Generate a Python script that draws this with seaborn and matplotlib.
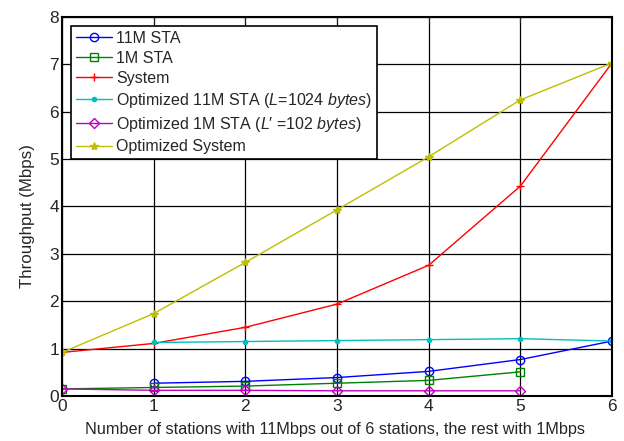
import matplotlib
matplotlib.use("Agg")
import matplotlib.pyplot as plt
import seaborn as sns

sns.set_style("white")
plt.rcParams["font.family"] = ["Liberation Sans", "DejaVu Sans"]
plt.rcParams["mathtext.fontset"] = "custom"
plt.rcParams["mathtext.rm"] = "Liberation Sans"
plt.rcParams["mathtext.it"] = "Liberation Sans:italic"

# Throughput (Mbps) vs. number of 11Mbps stations
x_11m = [1, 2, 3, 4, 5, 6]
sta_11m = [0.27, 0.31, 0.39, 0.52, 0.77, 1.16]

x_1m = [0, 1, 2, 3, 4, 5]
sta_1m = [0.15, 0.18, 0.21, 0.27, 0.33, 0.51]

x_sys = [0, 1, 2, 3, 4, 5, 6]
system = [0.92, 1.11, 1.45, 1.94, 2.76, 4.43, 7.03]

x_opt11 = [1, 2, 3, 4, 5, 6]
opt_11m = [1.13, 1.15, 1.17, 1.19, 1.21, 1.16]

x_opt1 = [0, 1, 2, 3, 4, 5]
opt_1m = [0.15, 0.12, 0.12, 0.11, 0.11, 0.11]

x_optsys = [0, 1, 2, 3, 4, 5, 6]
opt_sys = [0.92, 1.74, 2.82, 3.93, 5.05, 6.25, 7.03]

labels = [
    "11M STA",
    "1M STA",
    "System",
    r"Optimized 11M STA ($\mathit{L}\text{=}\mathit{1024\ bytes}$)",
    r"Optimized 1M STA ($\mathit{L}\prime\ \text{=}\mathit{102\ bytes}$)",
    "Optimized System",
]

fig = plt.figure(figsize=(6.24, 4.41), dpi=100)
ax = fig.add_axes([0.0994, 0.102, 0.8814, 0.8595])

series = [
    (x_11m, sta_11m, "#0000ff", "o", 6, "none"),
    (x_1m, sta_1m, "#008000", "s", 6, "none"),
    (x_sys, system, "#ff0000", "+", 6, None),
    (x_opt11, opt_11m, "#00bfbf", ".", 6, None),
    (x_opt1, opt_1m, "#bf00bf", "D", 5, "none"),
    (x_optsys, opt_sys, "#bfbf00", "*", 6, None),
]

for (xs, ys, c, m, ms, mfc), lab in zip(series, labels):
    kw = dict(marker=m, markersize=ms, markeredgewidth=1.0,
              markeredgecolor=c)
    kw["markerfacecolor"] = mfc if mfc is not None else c
    sns.lineplot(x=xs, y=ys, color=c, linewidth=1.0, label=lab, ax=ax, **kw)

ax.set_xlim(0, 6)
ax.set_ylim(0, 8)
ax.set_xticks(range(0, 7))
ax.set_yticks(range(0, 9))
ax.grid(True, color="black", linewidth=0.9)
ax.tick_params(direction="in", labelsize=12.5, length=4, top=True, right=True,
               pad=2)
for s in ax.spines.values():
    s.set_color("black")
    s.set_linewidth(1.5)

ax.set_xlabel("Number of stations with 11Mbps out of 6 stations, the rest with 1Mbps",
              fontsize=11.7)
ax.xaxis.set_label_coords(0.496, -0.068)
ax.set_ylabel("Throughput (Mbps)", fontsize=12.2)
ax.yaxis.set_label_coords(-0.05, 0.475)

leg = ax.legend(loc="upper left", fontsize=11.5, frameon=True, fancybox=False,
                edgecolor="black", framealpha=1, handlelength=2.3,
                labelspacing=0.32, borderpad=0.3, handletextpad=0.25,
                borderaxespad=0.55)
leg.get_frame().set_linewidth(1.2)

fig.savefig("out.png", dpi=100)
